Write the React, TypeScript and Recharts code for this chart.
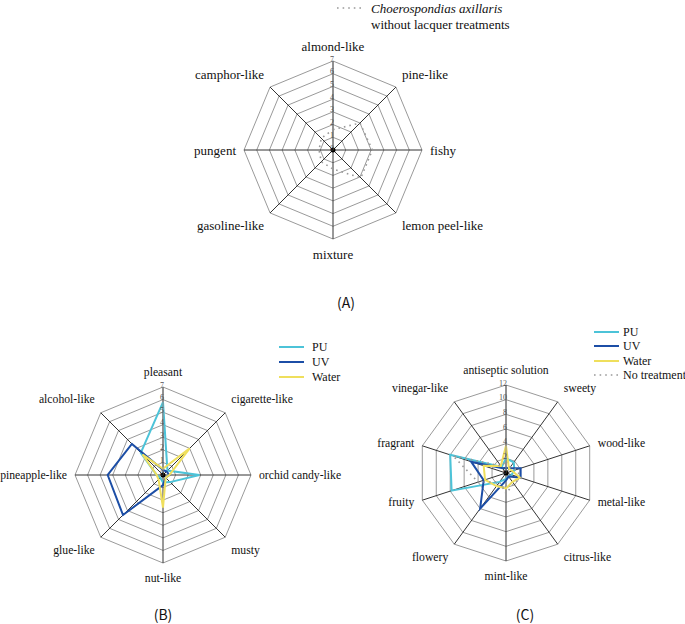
import { RadarChart, Radar, PolarGrid, PolarAngleAxis, PolarRadiusAxis } from 'recharts';

// (A) untreated wood
const aAxes = ['almond-like', 'pine-like', 'fishy', 'lemon peel-like', 'mixture', 'gasoline-like', 'pungent', 'camphor-like'];
const aNoTreatment = [1.6, 3.0, 3.1, 3.1, 1.5, 1.3, 1.1, 1.3];

// (B)
const bAxes = ['pleasant', 'cigarette-like', 'orchid candy-like', 'musty', 'nut-like', 'glue-like', 'pineapple-like', 'alcohol-like'];
const bPU = [5.8, 0.5, 2.9, 0.8, 0.6, 0.3, 0.5, 2.5];
const bUV = [0.4, 0.4, 0.5, 0.3, 0.8, 4.5, 4.4, 3.5];
const bWater = [0.5, 3.0, 0.5, 0.3, 2.6, 0.5, 0.5, 2.3];

// (C)
const cAxes = ['antiseptic solution', 'sweety', 'wood-like', 'metal-like', 'citrus-like', 'mint-like', 'flowery', 'fruity', 'fragrant', 'vinegar-like'];
const cPU = [2.0, 1.8, 1.2, 0.8, 0.6, 0.8, 1.5, 7.8, 8.0, 1.0];
const cUV = [0.7, 0.8, 2.1, 2.1, 0.6, 1.0, 6.0, 3.2, 5.0, 0.8];
const cWater = [3.7, 0.7, 0.9, 2.0, 1.5, 2.1, 2.2, 3.0, 3.2, 1.2];
const cNoTreatment = [1.5, 1.0, 1.5, 2.2, 1.8, 2.8, 1.5, 4.0, 7.6, 1.2];

const PU = '#4cc3d8';
const UV = '#1c4ea6';
const WATER = '#efdf5c';
const DOTTED = '#999';
const SERIF = "'Liberation Serif', 'Times New Roman', serif";
const serif = { fontFamily: SERIF };

const W = 685;
const H = 624;

const angleTick = (cx: number, cy: number, r: number, fontSize: number) => (props: any) => {
  const { x, y, payload } = props;
  const dx = x - cx;
  const dy = y - cy;
  const d = Math.hypot(dx, dy) || 1;
  const ux = dx / d;
  const uy = dy / d;
  const vx = cx + ux * r;
  const vy = cy + uy * r;
  let anchor = 'middle';
  let tx = vx;
  let ty = vy;
  if (Math.abs(ux) < 0.1) {
    ty = vy + Math.sign(uy) * 15;
  } else {
    anchor = ux > 0 ? 'start' : 'end';
    tx = vx + Math.sign(ux) * (Math.abs(uy) < 0.5 ? 8 : 6);
    ty = vy + (Math.abs(uy) > 0.5 ? Math.sign(uy) * 13 : uy * 8);
  }
  return (
    <text x={tx} y={ty} textAnchor={anchor} dominantBaseline="central" fontSize={fontSize} style={serif} fill="#111">
      {payload.value}
    </text>
  );
};

const radiusTick = (props: any) => {
  const { x, y, payload } = props;
  return (
    <g>
      {payload.value === 0 && <circle cx={x} cy={y} r={2.5} fill="#000" />}
      <text x={x + 1} y={y - 2} textAnchor="end" dominantBaseline="central" fontSize={8} style={serif} fill="#555">
        {payload.value}
      </text>
    </g>
  );
};

type Series = { key: string; values: number[]; color: string; dotted?: boolean };

const Panel = ({ axes, series, max, tickCount, cx, cy, r, fontSize }: {
  axes: string[]; series: Series[]; max: number; tickCount: number; cx: number; cy: number; r: number; fontSize: number;
}) => {
  const data = axes.map((name, i) => {
    const row: any = { name };
    series.forEach((s) => { row[s.key] = s.values[i]; });
    return row;
  });
  return (
    <div style={{ position: 'absolute', left: 0, top: 0 }}>
      <RadarChart width={W} height={H} data={data} cx={cx} cy={cy} outerRadius={r} margin={{ top: 0, right: 0, bottom: 0, left: 0 }}>
        <PolarGrid gridType="polygon" radialLines={false} stroke="#9a9a9a" />
        <PolarGrid gridType="polygon" polarRadius={[]} stroke="#333" />
        <PolarAngleAxis dataKey="name" tick={angleTick(cx, cy, r, fontSize)} tickLine={false} axisLine={false} />
        <PolarRadiusAxis angle={90} domain={[0, max]} tickCount={tickCount} axisLine={{ stroke: '#8a8a8a' }} tickLine={false} tick={radiusTick} />
        {series.map((s) => (
          <Radar
            key={s.key}
            dataKey={s.key}
            stroke={s.color}
            strokeWidth={s.dotted ? 1.6 : 2}
            strokeDasharray={s.dotted ? '1.6 4' : undefined}
            fill="none"
            fillOpacity={0}
            dot={false}
            isAnimationActive={false}
          />
        ))}
      </RadarChart>
    </div>
  );
};

const LegendLine = ({ x, y, color, dotted }: { x: number; y: number; color: string; dotted?: boolean }) => (
  <line x1={x} y1={y} x2={x + 25} y2={y} stroke={color} strokeWidth={dotted ? 1.6 : 2} strokeDasharray={dotted ? '1.6 4' : undefined} />
);

export default function App() {
  return (
    <div style={{ position: 'absolute', left: 0, top: 0, width: W, height: H, background: '#fff', overflow: 'hidden', fontFamily: SERIF }}>
      <Panel axes={aAxes} series={[{ key: 'none', values: aNoTreatment, color: DOTTED, dotted: true }]}
        max={7} tickCount={8} cx={333} cy={150} r={89} fontSize={13} />
      <Panel axes={bAxes} series={[
        { key: 'PU', values: bPU, color: PU },
        { key: 'UV', values: bUV, color: UV },
        { key: 'Water', values: bWater, color: WATER },
      ]} max={7} tickCount={8} cx={163} cy={475} r={88} fontSize={11.7} />
      <Panel axes={cAxes} series={[
        { key: 'PU', values: cPU, color: PU },
        { key: 'UV', values: cUV, color: UV },
        { key: 'Water', values: cWater, color: WATER },
        { key: 'none', values: cNoTreatment, color: DOTTED, dotted: true },
      ]} max={12} tickCount={7} cx={506} cy={473} r={88} fontSize={11.7} />
      <svg width={W} height={H} style={{ position: 'absolute', left: 0, top: 0, pointerEvents: 'none' }}>
        <g style={serif} fill="#111" dominantBaseline="central">
          <LegendLine x={337} y={8} color={DOTTED} dotted />
          <text x={371} y={8} fontSize={13} fontStyle="italic" style={serif}>Choerospondias axillaris</text>
          <text x={371} y={24} fontSize={13} style={serif}>without lacquer treatments</text>

          <LegendLine x={279} y={347} color={PU} />
          <LegendLine x={279} y={362} color={UV} />
          <LegendLine x={279} y={377} color={WATER} />
          <text x={312} y={347} fontSize={12} style={serif}>PU</text>
          <text x={312} y={362} fontSize={12} style={serif}>UV</text>
          <text x={312} y={377} fontSize={12} style={serif}>Water</text>

          <LegendLine x={594} y={332} color={PU} />
          <LegendLine x={594} y={346} color={UV} />
          <LegendLine x={594} y={361} color={WATER} />
          <LegendLine x={594} y={375} color={DOTTED} dotted />
          <text x={623} y={332} fontSize={12} style={serif}>PU</text>
          <text x={623} y={346} fontSize={12} style={serif}>UV</text>
          <text x={623} y={361} fontSize={12} style={serif}>Water</text>
          <text x={623} y={375} fontSize={12} style={serif}>No treatment</text>
        </g>
        <g fill="#111" fontSize={14} textAnchor="middle" dominantBaseline="central"
          style={{ fontFamily: "'Noto Sans CJK SC', 'Liberation Mono', monospace" }}>
          <text x={346} y={302}>(A)</text>
          <text x={163} y={614}>(B)</text>
          <text x={525} y={614}>(C)</text>
        </g>
      </svg>
    </div>
  );
}
